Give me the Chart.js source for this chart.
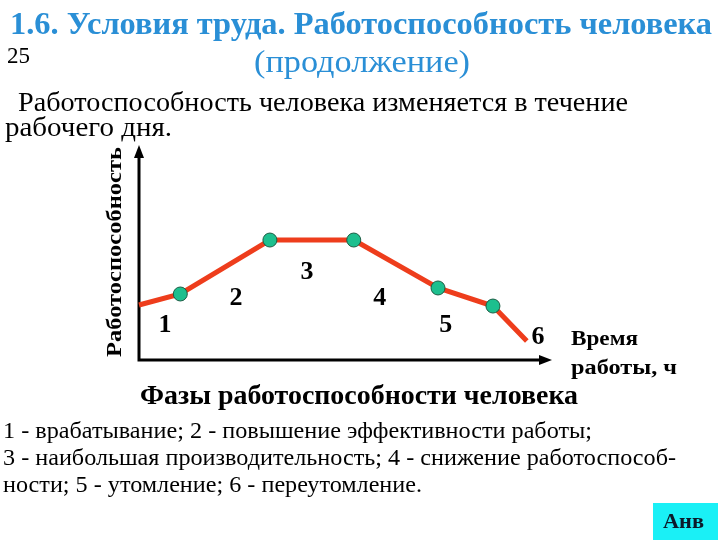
<!DOCTYPE html>
<html>
<head>
<meta charset="utf-8">
<script src="https://cdn.jsdelivr.net/npm/chart.js@4.4.1/dist/chart.umd.min.js"></script>
<style>
  body { margin: 0; background: #fff; overflow: hidden; }
  canvas { display: block; }
</style>
</head>
<body>
<canvas id="chart" width="720" height="540"></canvas>
<script>
// время работы (условные единицы) и работоспособность
var timeValues = [0, 1.0, 3.17, 5.2, 7.24, 8.57, 9.39];
var workValues = [2.56, 3.07, 5.58, 5.58, 3.35, 2.51, 0.88];
// подписи фаз и их место на графике
var phaseNames = ['1', '2', '3', '4', '5', '6'];
var phaseX = [0.63, 2.35, 4.07, 5.83, 7.43, 9.66];
var phaseY = [1.63, 2.88, 4.09, 2.88, 1.63, 1.07];

var serif = '"Liberation Serif", "Times New Roman", serif';

// пишет текст, сжимая его до нужной ширины
function drawText(ctx, str, font, color, x, y, width) {
  ctx.save();
  ctx.font = font;
  ctx.fillStyle = color;
  ctx.textBaseline = 'alphabetic';
  ctx.textAlign = 'left';
  var w = ctx.measureText(str).width;
  ctx.translate(x, y);
  if (width) ctx.scale(width / w, 1);
  ctx.fillText(str, 0, 0);
  ctx.restore();
}

var slidePlugin = {
  id: 'slide',
  beforeDraw: function(chart) {
    var ctx = chart.ctx, a = chart.chartArea;
    var blue = '#2a8fd6';
    drawText(ctx, '1.6. Условия труда. Работоспособность человека', 'bold 31px ' + serif, blue, 10, 34, 702);
    drawText(ctx, '25', '23px ' + serif, '#000', 7, 63, 23);
    drawText(ctx, '(продолжение)', '31px ' + serif, blue, 254, 72, 216);
    drawText(ctx, 'Работоспособность человека изменяется в течение', '27px ' + serif, '#000', 18, 111, 610);
    drawText(ctx, 'рабочего дня.', '27px ' + serif, '#000', 5, 136, 167);

    // подпись оси Y
    ctx.save();
    ctx.translate(121, 357);
    ctx.rotate(-Math.PI / 2);
    drawText(ctx, 'Работоспособность', 'bold 21px ' + serif, '#000', 0, 0, 210);
    ctx.restore();

    drawText(ctx, 'Время', 'bold 20px ' + serif, '#000', 571, 345, 67);
    drawText(ctx, 'работы, ч', 'bold 20px ' + serif, '#000', 571, 374, 106);
    drawText(ctx, 'Фазы работоспособности человека', 'bold 27px ' + serif, '#000', 140, 404, 438);
    drawText(ctx, '1 - врабатывание; 2 - повышение эффективности работы;', '24px ' + serif, '#000', 3, 438, 589);
    drawText(ctx, '3 - наибольшая производительность; 4 - снижение работоспособ-', '24px ' + serif, '#000', 3, 465, 673);
    drawText(ctx, 'ности; 5 - утомление; 6 - переутомление.', '24px ' + serif, '#000', 3, 492, 419);

    // кнопка
    ctx.fillStyle = '#1af0f6';
    ctx.fillRect(653, 503, 65, 37);
    drawText(ctx, 'Анв', 'bold 20px ' + serif, '#0c1a2a', 663, 528, 41);

    // оси со стрелками
    ctx.save();
    ctx.strokeStyle = '#000';
    ctx.fillStyle = '#000';
    ctx.lineWidth = 3;
    ctx.beginPath();
    ctx.moveTo(a.left, a.top + 8);
    ctx.lineTo(a.left, a.bottom);
    ctx.lineTo(a.right - 8, a.bottom);
    ctx.stroke();
    ctx.beginPath();
    ctx.moveTo(a.left, a.top);
    ctx.lineTo(a.left - 5, a.top + 13);
    ctx.lineTo(a.left + 5, a.top + 13);
    ctx.closePath();
    ctx.fill();
    ctx.beginPath();
    ctx.moveTo(a.right, a.bottom);
    ctx.lineTo(a.right - 13, a.bottom - 5);
    ctx.lineTo(a.right - 13, a.bottom + 5);
    ctx.closePath();
    ctx.fill();
    ctx.restore();
  },
  afterDatasetsDraw: function(chart) {
    var ctx = chart.ctx, xs = chart.scales.x, ys = chart.scales.y;
    ctx.save();
    ctx.font = 'bold 26px ' + serif;
    ctx.fillStyle = '#000';
    ctx.textAlign = 'center';
    ctx.textBaseline = 'middle';
    phaseNames.forEach(function(n, i) {
      ctx.fillText(n, xs.getPixelForValue(phaseX[i]), ys.getPixelForValue(phaseY[i]));
    });
    ctx.restore();
  }
};

new Chart(document.getElementById('chart').getContext('2d'), {
  type: 'line',
  data: {
    datasets: [{
      data: timeValues.map(function(t, i) { return { x: t, y: workValues[i] }; }),
      borderColor: '#ee3d1c',
      borderWidth: 5,
      pointRadius: timeValues.map(function(t, i) { return (i === 0 || i === timeValues.length - 1) ? 0 : 7; }),
      pointBackgroundColor: '#1dbf8e',
      pointBorderColor: '#1d5c44',
      pointBorderWidth: 1,
      tension: 0,
      clip: false
    }]
  },
  options: {
    responsive: false,
    animation: false,
    devicePixelRatio: 1,
    layout: { padding: { left: 139, top: 145, right: 168, bottom: 180 } },
    scales: {
      x: { type: 'linear', min: 0, max: 10, display: false },
      y: { min: 0, max: 10, display: false }
    },
    plugins: { legend: { display: false }, tooltip: { enabled: false } }
  },
  plugins: [slidePlugin]
});
</script>
</body>
</html>
